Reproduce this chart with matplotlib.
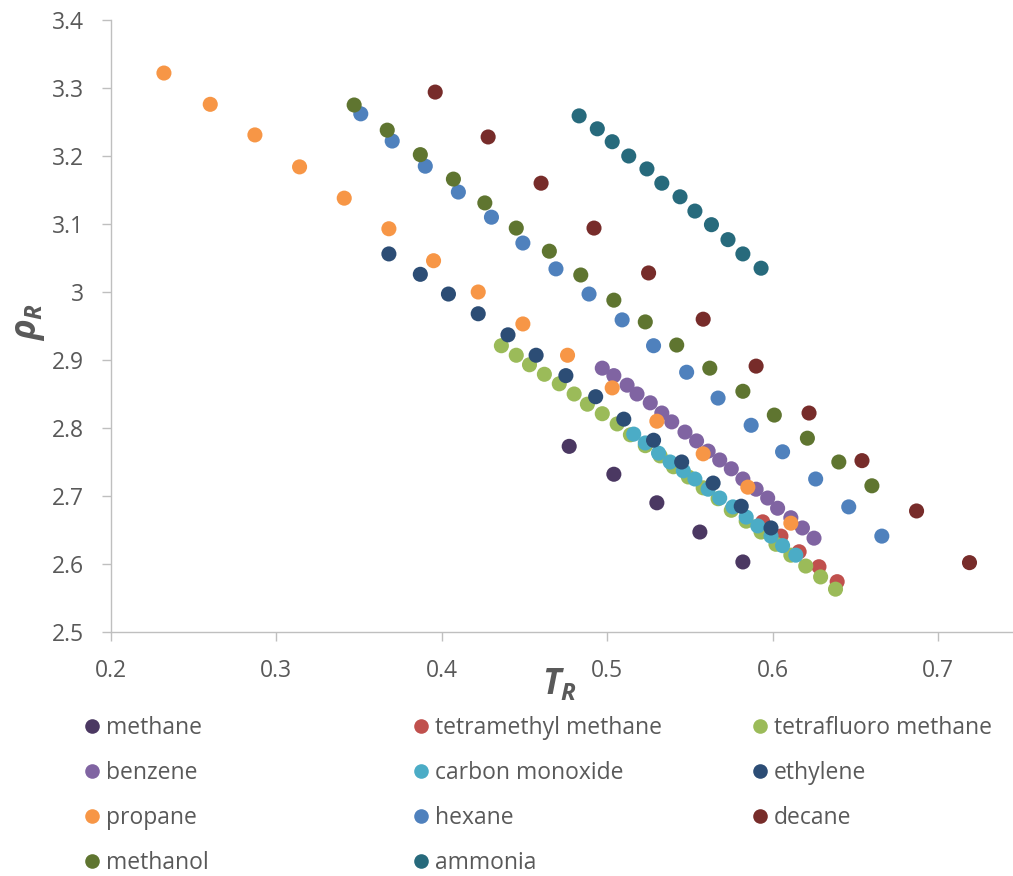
import matplotlib
matplotlib.use("Agg")
import matplotlib.pyplot as plt
from matplotlib.lines import Line2D

plt.rcParams['font.family'] = ['Open Sans', 'DejaVu Sans']
plt.rcParams['mathtext.fontset'] = 'custom'
plt.rcParams['mathtext.it'] = 'Open Sans:italic:bold'
plt.rcParams['mathtext.rm'] = 'Open Sans:bold'

# Datos reducidos (T_R, rho_R) por sustancia
methane_T = [0.477, 0.504, 0.530, 0.556, 0.582]
methane_rho = [2.773, 2.732, 2.690, 2.647, 2.603]

tetramethyl_T = [0.594, 0.605, 0.616, 0.628, 0.639]
tetramethyl_rho = [2.662, 2.641, 2.618, 2.596, 2.574]

tetrafluoro_T = [0.436, 0.445, 0.453, 0.462, 0.471, 0.480, 0.488, 0.497,
                 0.506, 0.514, 0.523, 0.532, 0.540, 0.549, 0.558, 0.567,
                 0.575, 0.584, 0.593, 0.602, 0.611, 0.620, 0.629, 0.638]
tetrafluoro_rho = [2.921, 2.907, 2.893, 2.879, 2.865, 2.850, 2.835, 2.821,
                   2.806, 2.790, 2.774, 2.759, 2.743, 2.728, 2.712, 2.696,
                   2.679, 2.663, 2.647, 2.629, 2.613, 2.597, 2.581, 2.563]

benzene_T = [0.497, 0.504, 0.512, 0.518, 0.526, 0.533, 0.539, 0.547, 0.554,
             0.561, 0.568, 0.575, 0.582, 0.590, 0.597, 0.603, 0.611, 0.618,
             0.625]
benzene_rho = [2.888, 2.877, 2.863, 2.850, 2.837, 2.822, 2.809, 2.794, 2.781,
               2.766, 2.753, 2.740, 2.725, 2.710, 2.697, 2.682, 2.668, 2.653,
               2.638]

co_T = [0.516, 0.523, 0.531, 0.538, 0.546, 0.553, 0.561, 0.568, 0.576,
        0.584, 0.591, 0.599, 0.606, 0.614]
co_rho = [2.791, 2.778, 2.763, 2.750, 2.737, 2.725, 2.710, 2.697, 2.684,
          2.669, 2.656, 2.641, 2.627, 2.613]

ethylene_T = [0.368, 0.387, 0.404, 0.422, 0.440, 0.457, 0.475, 0.493, 0.510,
              0.528, 0.545, 0.564, 0.581, 0.599]
ethylene_rho = [3.056, 3.026, 2.997, 2.968, 2.937, 2.907, 2.877, 2.846, 2.813,
                2.782, 2.750, 2.719, 2.685, 2.653]

propane_T = [0.232, 0.260, 0.287, 0.314, 0.341, 0.368, 0.395, 0.422, 0.449,
             0.476, 0.503, 0.530, 0.558, 0.585, 0.611]
propane_rho = [3.322, 3.276, 3.231, 3.184, 3.138, 3.093, 3.046, 3.000, 2.953,
               2.907, 2.859, 2.810, 2.762, 2.713, 2.660]

hexane_T = [0.351, 0.370, 0.390, 0.410, 0.430, 0.449, 0.469, 0.489, 0.509,
            0.528, 0.548, 0.567, 0.587, 0.606, 0.626, 0.646, 0.666]
hexane_rho = [3.262, 3.222, 3.185, 3.147, 3.110, 3.072, 3.034, 2.997, 2.959,
              2.921, 2.882, 2.844, 2.804, 2.765, 2.725, 2.684, 2.641]

decane_T = [0.396, 0.428, 0.460, 0.492, 0.525, 0.558, 0.590, 0.622, 0.654,
            0.687, 0.719]
decane_rho = [3.294, 3.228, 3.160, 3.094, 3.028, 2.960, 2.891, 2.822, 2.752,
              2.678, 2.602]

methanol_T = [0.347, 0.367, 0.387, 0.407, 0.426, 0.445, 0.465, 0.484, 0.504,
              0.523, 0.542, 0.562, 0.582, 0.601, 0.621, 0.640, 0.660]
methanol_rho = [3.275, 3.238, 3.202, 3.166, 3.131, 3.094, 3.060, 3.025, 2.988,
                2.956, 2.922, 2.888, 2.854, 2.819, 2.785, 2.750, 2.715]

ammonia_T = [0.483, 0.494, 0.503, 0.513, 0.524, 0.533, 0.544, 0.553, 0.563,
             0.573, 0.582, 0.593]
ammonia_rho = [3.259, 3.240, 3.221, 3.200, 3.181, 3.160, 3.140, 3.119, 3.099,
               3.077, 3.056, 3.035]

series = [
    ('methane', methane_T, methane_rho, '#4B3862'),
    ('tetramethyl methane', tetramethyl_T, tetramethyl_rho, '#C0504D'),
    ('tetrafluoro methane', tetrafluoro_T, tetrafluoro_rho, '#9BBB59'),
    ('benzene', benzene_T, benzene_rho, '#8064A2'),
    ('carbon monoxide', co_T, co_rho, '#4BACC6'),
    ('ethylene', ethylene_T, ethylene_rho, '#2C4D75'),
    ('propane', propane_T, propane_rho, '#F79646'),
    ('hexane', hexane_T, hexane_rho, '#4F81BD'),
    ('decane', decane_T, decane_rho, '#772C2A'),
    ('methanol', methanol_T, methanol_rho, '#5F7530'),
    ('ammonia', ammonia_T, ammonia_rho, '#276A7C'),
]

W, H = 1013, 876
fig = plt.figure(figsize=(W / 100, H / 100), dpi=100)
ax = fig.add_axes([111 / W, 1 - 632 / H, (W - 111) / W, (632 - 20) / H])

for i, (nombre, T, rho, color) in enumerate(series):
    ax.scatter(T, rho, s=118, color=color, edgecolors='none', zorder=2 + i)

ax.set_xlim(0.2, 0.7453)
ax.set_ylim(2.5, 3.4)
ax.set_xticks([0.2, 0.3, 0.4, 0.5, 0.6, 0.7])
ax.set_xticklabels(['0.2', '0.3', '0.4', '0.5', '0.6', '0.7'])
yt = [2.5, 2.6, 2.7, 2.8, 2.9, 3.0, 3.1, 3.2, 3.3, 3.4]
ax.set_yticks(yt)
ax.set_yticklabels(['2.5', '2.6', '2.7', '2.8', '2.9', '3', '3.1', '3.2', '3.3', '3.4'])

gris = '#BFBFBF'
texto = '#595959'
for lado in ['top', 'right']:
    ax.spines[lado].set_visible(False)
for lado in ['left', 'bottom']:
    ax.spines[lado].set_color(gris)
    ax.spines[lado].set_linewidth(1.0)
ax.tick_params(axis='both', direction='out', length=6.5, width=1.0, color=gris,
               labelcolor=texto, labelsize=16.5)
ax.tick_params(axis='y', pad=13)
ax.tick_params(axis='x', pad=13)

fig.text(30 / W, 1 - 322 / H, r'$\rho_R$', rotation=90, ha='center', va='center',
         fontsize=25, color=texto)
fig.text(559 / W, 1 - 684 / H, r'$T_R$', ha='center', va='center',
         fontsize=25, color=texto)

# Leyenda en tres columnas independientes
columnas = [
    (['methane', 'benzene', 'propane', 'methanol'], 84),
    (['tetramethyl methane', 'carbon monoxide', 'hexane', 'ammonia'], 413),
    (['tetrafluoro methane', 'ethylene', 'decane'], 752),
]
colores = {s[0]: s[3] for s in series}
for nombres, x0 in columnas:
    handles = [Line2D([], [], marker='o', linestyle='none', markersize=10.5,
                      markerfacecolor=colores[n], markeredgecolor='none')
               for n in nombres]
    leg = fig.legend(handles, nombres, loc='upper left',
                     bbox_to_anchor=(x0 / W, 1 - 716 / H), frameon=False,
                     fontsize=16.5, handlelength=0.7, handletextpad=0.25,
                     borderpad=0, borderaxespad=0, labelspacing=0.92,
                     labelcolor=texto)

fig.savefig('out.png', dpi=100)
